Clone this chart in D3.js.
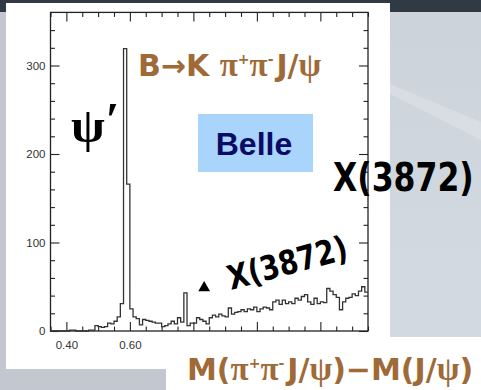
<!DOCTYPE html>
<html>
<head>
<meta charset="utf-8">
<script src="https://cdn.jsdelivr.net/npm/d3@7"></script>
<style>
  body { margin: 0; padding: 0; background: #fff; }
  svg { display: block; }
  .tick text { font-family: "Liberation Sans", Arial, sans-serif; font-size: 11.5px; fill: #333; }
  .tick line { stroke: #222; stroke-width: 1.1; }
</style>
</head>
<body>
<script>
// histogram: 10 MeV bins starting at 0.35 GeV
var binStart = 0.35, binWidth = 0.01;
var counts = [
  0, 0, 0, 0, 0, 0, 1, 1, 0, 0,
  0, 0, 1, 1, 6, 5, 4, 5, 9, 8,
  11, 16, 31, 319, 166, 25, 16, 14, 7, 13,
  12, 11, 10, 9, 9, 5, 6, 8, 11, 8,
  15, 10, 43, 6, 9, 9, 15, 13, 11, 8,
  15, 18, 16, 19, 17, 16, 26, 19, 21, 22,
  24, 22, 25, 24, 27, 22, 25, 27, 26, 24,
  33, 35, 30, 35, 31, 33, 31, 37, 35, 39,
  41, 33, 30, 37, 31, 33, 32, 48, 45, 41,
  38, 24, 33, 37, 38, 42, 40, 45, 50, 44
];
var xMajor = [0.4, 0.6, 0.8, 1.0, 1.2];
var xMajorLabels = ["0.40", "0.60", "", "", ""];
var yMajor = [0, 100, 200, 300];
var marker = {x: 0.834, y: 50};   // the little triangle

var W = 481, H = 390;
var svg = d3.select('body').append('svg')
  .attr('width', W).attr('height', H);

// ---- slide background ----
var defs = svg.append('defs');
var grad = defs.append('linearGradient').attr('id', 'bg')
  .attr('x1', 0).attr('y1', 0).attr('x2', 0).attr('y2', 1);
grad.append('stop').attr('offset', 0).attr('stop-color', '#ccd3db');
grad.append('stop').attr('offset', 1).attr('stop-color', '#d4dae1');

svg.append('rect').attr('width', W).attr('height', H).attr('fill', '#c2c7d0');
svg.append('rect').attr('x', 380).attr('y', 12).attr('width', 101).attr('height', 330).attr('fill', 'url(#bg)');
svg.append('path').attr('d', 'M390,84 L481,122 L481,140 L390,94 Z').attr('fill', '#fff').attr('opacity', 0.2);
svg.append('rect').attr('width', W).attr('height', 12).attr('fill', '#2f3a45');
// white plot panel + label box
svg.append('rect').attr('x', 6).attr('y', 3).attr('width', 384).attr('height', 366).attr('fill', '#fff');
svg.append('rect').attr('x', 166).attr('y', 337).attr('width', 315).attr('height', 53).attr('fill', '#fff');

// ---- scales ----
var x = d3.scaleLinear().domain([0.35, 1.35]).range([50.5, 368]);
var y = d3.scaleLinear().domain([0, 360]).range([331, 12.4]);

var main = svg.append('g');

// axes: ticks inside the frame
function noLabel() { return ''; }
var xMinor = d3.range(0.35, 1.351, 0.05).filter(function(v) {
  return xMajor.every(function(m) { return Math.abs(m - v) > 1e-6; });
});
var yMinor = d3.range(20, 360, 20).filter(function(v) { return v % 100 !== 0; });

main.append('g').attr('transform', 'translate(0,331)')
  .call(d3.axisBottom(x).tickValues(xMajor).tickSize(-9).tickPadding(10)
    .tickFormat(function(d, i) { return xMajorLabels[i]; }));
main.append('g').attr('transform', 'translate(0,331)')
  .call(d3.axisBottom(x).tickValues(xMinor).tickSize(-4.5).tickFormat(noLabel));
main.append('g').attr('transform', 'translate(0,12.4)')
  .call(d3.axisTop(x).tickValues(xMajor).tickSize(-9).tickFormat(noLabel));
main.append('g').attr('transform', 'translate(0,12.4)')
  .call(d3.axisTop(x).tickValues(xMinor).tickSize(-4.5).tickFormat(noLabel));

main.append('g').attr('transform', 'translate(50.5,0)')
  .call(d3.axisLeft(y).tickValues(yMajor).tickSize(-9).tickPadding(5));
main.append('g').attr('transform', 'translate(50.5,0)')
  .call(d3.axisLeft(y).tickValues(yMinor).tickSize(-4.5).tickFormat(noLabel));
main.append('g').attr('transform', 'translate(368,0)')
  .call(d3.axisRight(y).tickValues(yMajor).tickSize(-9).tickFormat(noLabel));
main.append('g').attr('transform', 'translate(368,0)')
  .call(d3.axisRight(y).tickValues(yMinor).tickSize(-4.5).tickFormat(noLabel));

main.selectAll('.domain').remove();

// frame
main.append('rect')
  .attr('x', x(0.35)).attr('y', y(360))
  .attr('width', x(1.35) - x(0.35)).attr('height', y(0) - y(360))
  .attr('fill', 'none').attr('stroke', '#222').attr('stroke-width', 1.3);

// histogram as a step line
var pts = counts.map(function(c, i) { return {e: binStart + i * binWidth, v: c}; });
pts.push({e: binStart + counts.length * binWidth, v: counts[counts.length - 1]});
var line = d3.line()
  .x(function(d) { return x(d.e); })
  .y(function(d) { return y(d.v); })
  .curve(d3.curveStepAfter);
main.append('path')
  .datum(pts)
  .attr('d', line)
  .attr('fill', 'none')
  .attr('stroke', '#333')
  .attr('stroke-width', 1.3);

// triangle marker
main.append('path')
  .attr('d', d3.symbol(d3.symbolTriangle, 60))
  .attr('transform', 'translate(' + x(marker.x) + ',' + (y(marker.y) + 1) + ')')
  .attr('fill', '#000');

// ---- annotations ----
var brown = '#a06a38';
var serif = '"Liberation Serif", "DejaVu Serif", serif';
var psi = svg.append('text').attr('x', 71).attr('y', 142)
  .style('font-family', serif)
  .style('font-size', '49px').attr('fill', '#000');
psi.append('tspan').style('font-weight', 'bold').text('ψ');
psi.append('tspan').attr('dx', 1).attr('dy', -6).style('font-weight', 'bold').text('′');

var title = svg.append('text').attr('x', 138).attr('y', 76)
  .style('font-family', '"DejaVu Sans", sans-serif').style('font-weight', 'bold')
  .style('font-size', '30px').attr('fill', brown);
title.append('tspan').text('B→K ');
title.append('tspan').style('font-family', serif).style('font-size', '33px').text('π');
title.append('tspan').attr('dy', -12).style('font-size', '14px').text('+');
title.append('tspan').attr('dy', 12).style('font-family', serif).style('font-size', '33px').text('π');
title.append('tspan').attr('dy', -12).style('font-size', '14px').text('-');
title.append('tspan').attr('dy', 12).attr('dx', 3).text('J/');
title.append('tspan').style('font-family', serif).style('font-size', '33px').text('ψ');

svg.append('rect').attr('x', 198).attr('y', 114).attr('width', 115).attr('height', 58)
  .attr('fill', '#a9d4fb');
svg.append('text').attr('x', 254).attr('y', 155).attr('text-anchor', 'middle')
  .style('font-family', '"Liberation Sans", Arial, sans-serif').style('font-weight', 'bold')
  .style('font-size', '32px').attr('fill', '#0b0b66').text('Belle');

// big X(3872) label on the slide (stretched vertically like the original)
svg.append('text')
  .attr('transform', 'translate(333,191) scale(1,1.25)')
  .style('font-family', '"DejaVu Sans", sans-serif').style('font-weight', 'bold')
  .style('font-size', '31.5px').attr('fill', '#000')
  .text('X(3872)');

svg.append('text')
  .attr('transform', 'translate(231,290) rotate(-15) scale(1,1.22)')
  .style('font-family', '"DejaVu Sans", sans-serif').style('font-weight', 'bold')
  .style('font-size', '27.5px').attr('fill', '#000')
  .text('X(3872)');

var xl = svg.append('text').attr('x', 187).attr('y', 380)
  .style('font-family', '"DejaVu Sans", sans-serif').style('font-weight', 'bold')
  .style('font-size', '30px').attr('fill', brown);
xl.append('tspan').text('M(');
xl.append('tspan').style('font-family', serif).style('font-size', '33px').text('π');
xl.append('tspan').attr('dy', -12).style('font-size', '14px').text('+');
xl.append('tspan').attr('dy', 12).style('font-family', serif).style('font-size', '33px').text('π');
xl.append('tspan').attr('dy', -12).style('font-size', '14px').text('-');
xl.append('tspan').attr('dy', 12).attr('dx', 3).text('J/');
xl.append('tspan').style('font-family', serif).style('font-size', '33px').text('ψ');
xl.append('tspan').text(')−M(J/');
xl.append('tspan').style('font-family', serif).style('font-size', '33px').text('ψ');
xl.append('tspan').text(')');
</script>
</body>
</html>
